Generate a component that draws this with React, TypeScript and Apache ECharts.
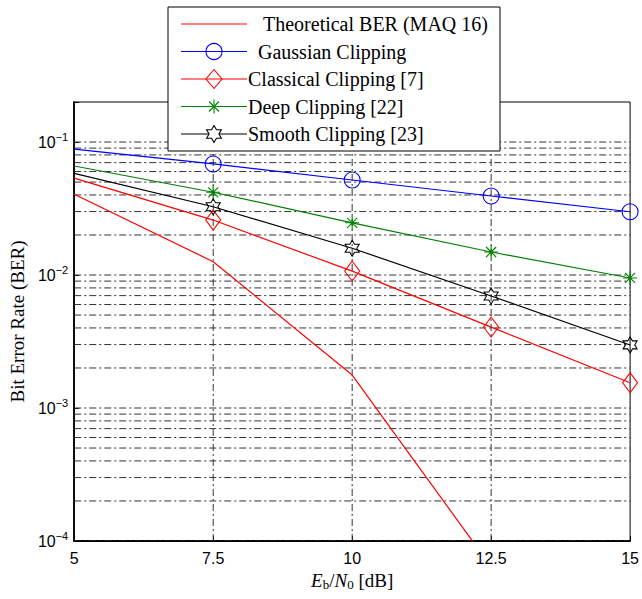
import React, { useEffect, useRef } from "react";
import * as echarts from "echarts";

// ---- data ----
const snrDb = [5, 7.5, 10, 12.5, 15];
const theoreticalBer = [0.0405, 0.0126, 0.00177, 0.000064, null];
const gaussianBer = [0.0885, 0.0684, 0.0518, 0.0393, 0.0299];
const classicalBer = [0.0536, 0.0259, 0.0107, 0.00406, 0.00155];
const deepBer = [0.066, 0.0419, 0.0247, 0.0149, 0.0095];
const smoothBer = [0.0582, 0.0326, 0.0159, 0.00695, 0.00298];

const seriesNames = [
  "Theoretical BER (MAQ 16)",
  "Gaussian Clipping",
  "Classical Clipping [7]",
  "Deep Clipping [22]",
  "Smooth Clipping [23]",
];
const xTicks = [5, 7.5, 10, 12.5, 15];
const verticalGrid = [7.5, 10, 12.5];
const decades = [-4, -3, -2, -1];
const mantissas = [1, 2, 3, 4, 5, 6, 7, 8, 9];

const X_MIN = 5;
const X_MAX = 15;
const Y_MIN = 1e-4;
const Y_MAX = 0.2;

const RED = "#ff0000";
const BLUE = "#0000ff";
const GREEN = "#008000";
const BLACK = "#000000";
const GRID_DASH = [7, 3, 2, 3];
const GRID_COLOR = "#333";

// hexagram points (unit)
const hexPts: number[][] = [];
for (let k = 0; k < 12; k++) {
  const a = ((90 + k * 30) * Math.PI) / 180;
  const r = k % 2 === 0 ? 1 : 1 / Math.sqrt(3);
  hexPts.push([r * Math.cos(a), -r * Math.sin(a)]);
}
const hexPath =
  "path://" +
  hexPts
    .map((p, i) => `${i === 0 ? "M" : "L"}${(p[0] * 10 + 10).toFixed(2)},${(p[1] * 10 + 10).toFixed(2)}`)
    .join("") +
  "Z";
const circlePath = "path://M0,8A8,8,0,1,1,16,8A8,8,0,1,1,0,8Z";
const diamondPath = "path://M8,0L16,10L8,20L0,10Z";
const asteriskPath = "path://M7,0L7,14M0,7L14,7M2,2L12,12M2,12L12,2";

function makeData(vals: (number | null)[]) {
  return snrDb.map((x, i) =>
    i === 0 ? { value: [x, vals[i]], symbol: "none" } : { value: [x, vals[i]] }
  );
}

function lineSeries(name: string, vals: (number | null)[], color: string, symbol: string, size: any) {
  return {
    name,
    type: "line",
    data: makeData(vals),
    symbol,
    symbolSize: size,
    showSymbol: symbol !== "none",
    clip: true,
    z: 3,
    lineStyle: { color, width: 1.2 },
    itemStyle: { color: "rgba(0,0,0,0)", borderColor: color, borderWidth: 1.1 },
    emphasis: { disabled: true },
  };
}

function legendGraphic() {
  const rows = [24, 51.5, 79, 106.5, 134];
  const textX = [263, 258, 248, 248, 248];
  const colors = [RED, BLUE, RED, GREEN, BLACK];
  const mx = 214;
  const Z = 100;
  const children: any[] = [
    {
      type: "rect",
      z: Z,
      shape: { x: 168, y: 7, width: 332, height: 144 },
      style: { fill: "#fff", stroke: "#000", lineWidth: 1 },
    },
  ];
  rows.forEach((y, i) => {
    children.push({
      type: "line",
      z: Z + 1,
      shape: { x1: 181, y1: y, x2: 247, y2: y },
      style: { stroke: colors[i], lineWidth: 1.2 },
    });
    children.push({
      type: "text",
      z: Z + 1,
      x: textX[i],
      y: y,
      style: {
        text: seriesNames[i],
        font: '20px "Liberation Serif"',
        fill: "#000",
        verticalAlign: "middle",
        align: "left",
      },
    });
  });
  children.push({
    type: "circle",
    z: Z + 2,
    shape: { cx: mx, cy: rows[1], r: 8 },
    style: { fill: "none", stroke: BLUE, lineWidth: 1.1 },
  });
  children.push({
    type: "polygon",
    z: Z + 2,
    shape: {
      points: [
        [mx, rows[2] - 9.5],
        [mx + 8, rows[2]],
        [mx, rows[2] + 9.5],
        [mx - 8, rows[2]],
      ],
    },
    style: { fill: "none", stroke: RED, lineWidth: 1.1 },
  });
  const a = 7;
  const d = 5;
  [
    [0, -a, 0, a],
    [-a, 0, a, 0],
    [-d, -d, d, d],
    [-d, d, d, -d],
  ].forEach((s) =>
    children.push({
      type: "line",
      z: Z + 2,
      shape: { x1: mx + s[0], y1: rows[3] + s[1], x2: mx + s[2], y2: rows[3] + s[3] },
      style: { stroke: GREEN, lineWidth: 1.1 },
    })
  );
  children.push({
    type: "polygon",
    z: Z + 2,
    shape: { points: hexPts.map((p) => [mx + p[0] * 8.5, rows[4] + p[1] * 8.5]) },
    style: { fill: "#fff", stroke: BLACK, lineWidth: 1.1 },
  });
  return { type: "group", z: Z, children };
}

export default function App() {
  const ref = useRef<HTMLDivElement>(null);
  useEffect(() => {
    if (!ref.current) return;
    const chart = echarts.init(ref.current, null, { renderer: "svg" });

    const hGridVals: number[][] = [];
    decades.forEach((e) => {
      mantissas.forEach((k) => {
        const v = k * Math.pow(10, e);
        if (v < Y_MAX * 0.999) hGridVals.push([X_MIN, v]);
      });
    });
    const vGridVals = verticalGrid.map((x) => [x, Y_MIN]);

    chart.setOption({
      animation: false,
      backgroundColor: "#fff",
      grid: {
        left: 73,
        right: 8,
        top: 102,
        bottom: 58,
        show: true,
        borderColor: "#000",
        borderWidth: 1,
        backgroundColor: "transparent",
      },
      xAxis: {
        type: "value",
        min: X_MIN,
        max: X_MAX,
        interval: 2.5,
        name: "{i|E}{sub|b}{n|/}{i|N}{sub|0}{n| [dB]}",
        nameLocation: "middle",
        nameGap: 27,
        nameTextStyle: {
          rich: {
            i: { fontFamily: "Liberation Serif", fontStyle: "italic", fontSize: 19, color: "#000" },
            sub: { fontFamily: "Liberation Serif", fontSize: 13, color: "#000", padding: [9, 0, 0, 0] },
            n: { fontFamily: "Liberation Serif", fontSize: 19, color: "#000" },
          },
        },
        axisLine: { show: true, lineStyle: { color: "#000", width: 1.8 } },
        axisTick: { show: true, inside: true, length: 5, lineStyle: { color: "#000" } },
        axisLabel: {
          color: "#000",
          fontFamily: "Liberation Sans",
          fontSize: 16,
          margin: 9,
          formatter: (v: number) => (xTicks.indexOf(v) >= 0 ? String(v) : ""),
        },
        splitLine: { show: false },
      },
      yAxis: {
        type: "log",
        logBase: 10,
        min: Y_MIN,
        max: Y_MAX,
        name: "Bit Error Rate (BER)",
        nameLocation: "middle",
        nameGap: 45,
        nameTextStyle: { fontFamily: "Liberation Serif", fontSize: 19, color: "#000" },
        axisLine: { show: true, lineStyle: { color: "#000", width: 1.8 } },
        axisTick: { show: true, inside: true, length: 5, lineStyle: { color: "#000" } },
        axisLabel: {
          color: "#000",
          margin: 6,
          formatter: (v: number) => {
            const l = Math.log10(v);
            const r = Math.round(l);
            if (Math.abs(l - r) > 1e-6) return "";
            return `{b|10}{s|\u2212${-r}}`;
          },
          rich: {
            b: { fontFamily: "Liberation Sans", fontSize: 16, color: "#000" },
            s: { fontFamily: "Liberation Sans", fontSize: 11, color: "#000", padding: [0, 0, 10, 0] },
          },
        },
        splitLine: { show: false },
      },
      graphic: [legendGraphic()],
      series: [
        {
          name: "hgrid",
          type: "custom",
          silent: true,
          z: 1,
          clip: true,
          encode: { x: 0, y: 1 },
          data: hGridVals,
          renderItem: (params: any, api: any) => {
            const v = api.value(1);
            const p1 = api.coord([X_MIN, v]);
            const p2 = api.coord([X_MAX, v]);
            return {
              type: "line",
              shape: { x1: p1[0], y1: p1[1], x2: p2[0], y2: p2[1] },
              style: { stroke: GRID_COLOR, lineWidth: 1, lineDash: GRID_DASH, fill: null },
            };
          },
        },
        {
          name: "vgrid",
          type: "custom",
          silent: true,
          z: 1,
          clip: true,
          encode: { x: 0, y: 1 },
          data: vGridVals,
          renderItem: (params: any, api: any) => {
            const x = api.value(0);
            const p1 = api.coord([x, Y_MIN]);
            const p2 = api.coord([x, Y_MAX]);
            return {
              type: "line",
              shape: { x1: p1[0], y1: p1[1], x2: p2[0], y2: p2[1] },
              style: { stroke: GRID_COLOR, lineWidth: 1, lineDash: GRID_DASH, fill: null },
            };
          },
        },
        lineSeries(seriesNames[0], theoreticalBer, RED, "none", 0),
        lineSeries(seriesNames[1], gaussianBer, BLUE, circlePath, 16),
        lineSeries(seriesNames[2], classicalBer, RED, diamondPath, [15, 20]),
        lineSeries(seriesNames[3], deepBer, GREEN, asteriskPath, 14),
        lineSeries(seriesNames[4], smoothBer, BLACK, hexPath, [14, 16]),
      ],
    });
    return () => chart.dispose();
  }, []);
  return <div ref={ref} style={{ width: 642, height: 599, position: "absolute", left: 0, top: 0 }} />;
}
